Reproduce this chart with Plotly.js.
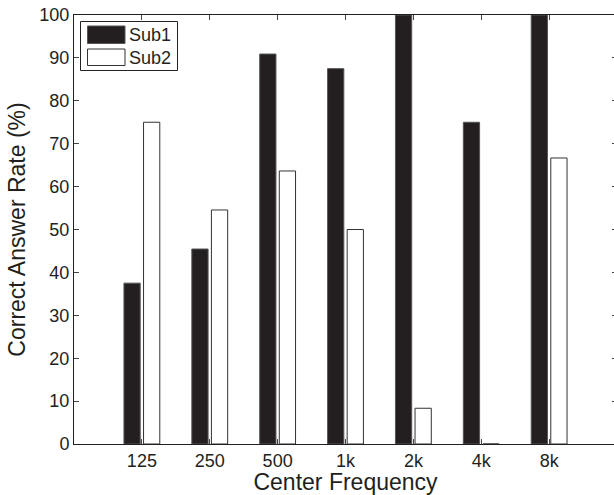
<!DOCTYPE html>
<html>
<head>
<meta charset="utf-8">
<script src="https://cdn.plot.ly/plotly-3.0.1.min.js"></script>
<style>
html, body { margin: 0; padding: 0; overflow: hidden; background: #fff; }
#chart { width: 617px; height: 495px; }
</style>
</head>
<body>
<div id="chart"></div>
<script>
// Data
const categories = ['125', '250', '500', '1k', '2k', '4k', '8k'];
const sub1 = [37.5, 45.45, 90.9, 87.5, 100, 75, 100];
const sub2 = [75, 54.55, 63.64, 50, 8.33, 0, 66.67];
const seriesNames = ['Sub1', 'Sub2'];
const yTicks = [0, 10, 20, 30, 40, 50, 60, 70, 80, 90, 100];

const FONT = 'Liberation Sans, Arial, Helvetica, sans-serif';
const W = 617, H = 495;
const M = {l: 74, r: 0, t: 15, b: 51};
const pw = W - M.l - M.r, ph = H - M.t - M.b;
const px = x => (x - M.l) / pw;
const py = y => (H - M.b - y) / ph;

const traces = [
  {
    type: 'bar', name: seriesNames[0], x: categories, y: sub1,
    marker: {color: '#231f20', line: {color: '#555555', width: 1}},
    showlegend: false
  },
  {
    type: 'bar', name: seriesNames[1], x: categories, y: sub2,
    marker: {color: '#ffffff', line: {color: '#333333', width: 1}},
    showlegend: false
  },
  {
    type: 'scatter', x: [], y: [], yaxis: 'y2', showlegend: false, hoverinfo: 'skip'
  }
];

const shapes = [
  {type: 'rect', xref: 'paper', yref: 'paper', x0: px(80.5), x1: px(177.5), y0: py(70.5), y1: py(21.5),
   line: {color: '#222', width: 1}, fillcolor: '#ffffff', layer: 'above'},
  {type: 'rect', xref: 'paper', yref: 'paper', x0: px(87.5), x1: px(125), y0: py(43.5), y1: py(26),
   line: {color: '#555', width: 1}, fillcolor: '#231f20', layer: 'above'},
  {type: 'rect', xref: 'paper', yref: 'paper', x0: px(87.5), x1: px(125), y0: py(65.5), y1: py(49),
   line: {color: '#333', width: 1}, fillcolor: '#ffffff', layer: 'above'}
];

const annotations = [
  {xref: 'paper', yref: 'paper', x: px(127), y: py(35), text: seriesNames[0], showarrow: false,
   xanchor: 'left', yanchor: 'middle', font: {family: FONT, size: 18, color: '#231f20'}},
  {xref: 'paper', yref: 'paper', x: px(127), y: py(57.5), text: seriesNames[1], showarrow: false,
   xanchor: 'left', yanchor: 'middle', font: {family: FONT, size: 18, color: '#231f20'}}
];

const layout = {
  width: W, height: H,
  margin: M,
  paper_bgcolor: '#ffffff', plot_bgcolor: '#ffffff',
  font: {family: FONT, color: '#231f20'},
  barmode: 'group', bargap: 0.423, bargroupgap: 0.17,
  showlegend: false,
  xaxis: {
    type: 'category', range: [-1, 7],
    showline: true, linecolor: '#231f20', linewidth: 1, mirror: 'ticks',
    ticks: 'inside', ticklen: 5, tickcolor: '#444', tickwidth: 1,
    showgrid: false, zeroline: false,
    tickfont: {family: FONT, size: 18, color: '#231f20'},
    title: {text: 'Center Frequency', font: {family: FONT, size: 23, color: '#231f20'}, standoff: 3}
  },
  yaxis: {
    range: [0, 100], tickvals: yTicks, ticktext: yTicks.map(String),
    showline: true, linecolor: '#231f20', linewidth: 1, mirror: false,
    ticks: 'inside', ticklen: 5, tickcolor: '#444', tickwidth: 1,
    showgrid: false, zeroline: false,
    tickfont: {family: FONT, size: 18, color: '#231f20'},
    title: {text: 'Correct Answer Rate (%)', font: {family: FONT, size: 23, color: '#231f20'}, standoff: 7}
  },
  yaxis2: {
    overlaying: 'y', side: 'right', range: [0, 100], tickvals: yTicks,
    showline: false, showticklabels: false,
    ticks: 'inside', ticklen: 5, tickcolor: '#444', tickwidth: 1,
    showgrid: false, zeroline: false
  },
  shapes: shapes,
  annotations: annotations
};

Plotly.newPlot('chart', traces, layout, {displayModeBar: false, staticPlot: true});
</script>
</body>
</html>
